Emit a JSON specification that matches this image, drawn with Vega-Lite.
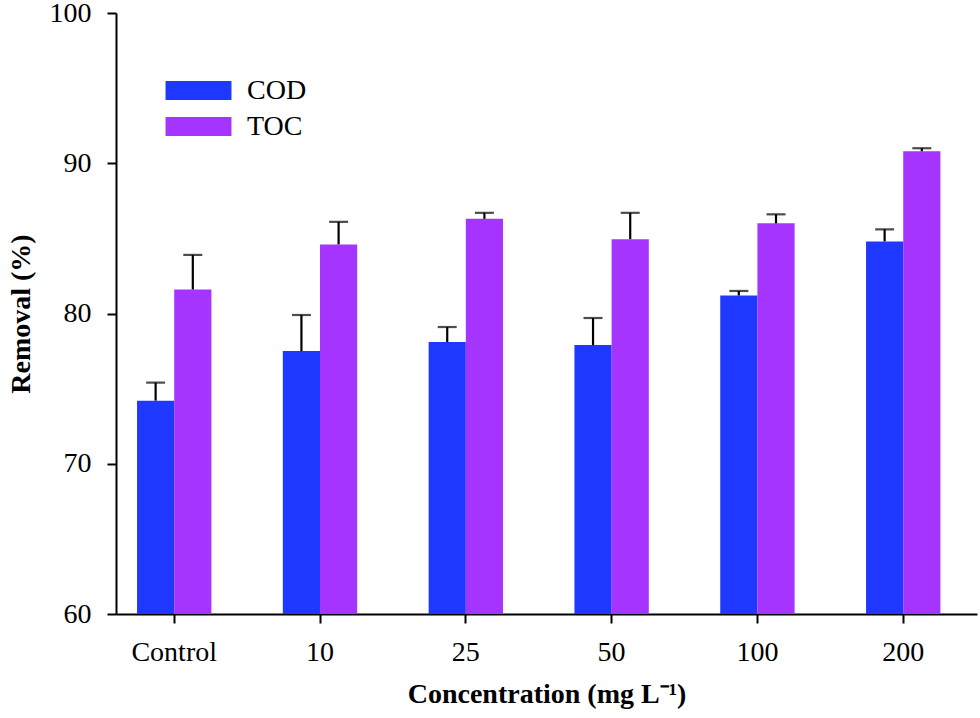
{
  "$schema": "https://vega.github.io/schema/vega-lite/v6.json",
  "width": 861,
  "height": 601,
  "autosize": {"type": "none"},
  "padding": {"left": 116, "top": 13, "right": 3, "bottom": 104},
  "background": "white",
  "data": {
    "values": [
      {"conc": "Control", "type": "COD", "removal": 74.2, "upper": 75.4},
      {"conc": "Control", "type": "TOC", "removal": 81.6, "upper": 83.9},
      {"conc": "10", "type": "COD", "removal": 77.5, "upper": 79.9},
      {"conc": "10", "type": "TOC", "removal": 84.6, "upper": 86.1},
      {"conc": "25", "type": "COD", "removal": 78.1, "upper": 79.1},
      {"conc": "25", "type": "TOC", "removal": 86.3, "upper": 86.7},
      {"conc": "50", "type": "COD", "removal": 77.9, "upper": 79.7},
      {"conc": "50", "type": "TOC", "removal": 84.95, "upper": 86.7},
      {"conc": "100", "type": "COD", "removal": 81.2, "upper": 81.5},
      {"conc": "100", "type": "TOC", "removal": 86.0, "upper": 86.6},
      {"conc": "200", "type": "COD", "removal": 84.8, "upper": 85.6},
      {"conc": "200", "type": "TOC", "removal": 90.8, "upper": 91.0}
    ]
  },
  "encoding": {
    "x": {
      "field": "conc",
      "type": "nominal",
      "sort": ["Control", "10", "25", "50", "100", "200"],
      "scale": {"paddingInner": 0.49, "paddingOuter": 0.1976, "align": 0.365},
      "axis": {
        "title": "Concentration (mg L⁻¹)",
        "labelAngle": 0,
        "labelPadding": 15,
        "titlePadding": 14
      }
    },
    "xOffset": {"field": "type", "type": "nominal", "sort": ["COD", "TOC"]}
  },
  "layer": [
    {
      "mark": {"type": "bar"},
      "encoding": {
        "y": {
          "field": "removal",
          "type": "quantitative",
          "scale": {"domain": [60, 100], "zero": false, "nice": false},
          "axis": {
            "title": "Removal (%)",
            "values": [60, 70, 80, 90, 100],
            "labelPadding": 16,
            "titlePadding": 14
          }
        },
        "y2": {"datum": 60},
        "color": {
          "field": "type",
          "type": "nominal",
          "scale": {"domain": ["COD", "TOC"], "range": ["#1F38FF", "#A534FF"]},
          "legend": {
            "title": null,
            "orient": "none",
            "legendX": 68.5,
            "legendY": 63.5,
            "symbolType": "M-3.47,-1H3.47V1H-3.47Z",
            "symbolSize": 361,
            "symbolStrokeWidth": 0,
            "rowPadding": 8,
            "labelOffset": 34.5,
            "labelFontSize": 28,
            "labelFont": "Liberation Serif",
            "labelColor": "black"
          }
        }
      }
    },
    {
      "mark": {"type": "rule", "color": "black", "strokeWidth": 2.2},
      "encoding": {
        "y": {"field": "removal", "type": "quantitative"},
        "y2": {"field": "upper"}
      }
    },
    {
      "mark": {"type": "tick", "color": "black", "thickness": 2.2, "size": 19},
      "encoding": {
        "y": {"field": "upper", "type": "quantitative"}
      }
    }
  ],
  "config": {
    "view": {"stroke": null},
    "font": "Liberation Serif",
    "axis": {
      "grid": false,
      "domainColor": "black",
      "domainWidth": 2,
      "tickColor": "black",
      "tickWidth": 2,
      "tickSize": 9,
      "labelFont": "Liberation Serif",
      "labelFontSize": 28,
      "labelColor": "black",
      "titleFont": "Liberation Serif",
      "titleFontSize": 28,
      "titleFontWeight": "bold",
      "titleColor": "black"
    }
  }
}
